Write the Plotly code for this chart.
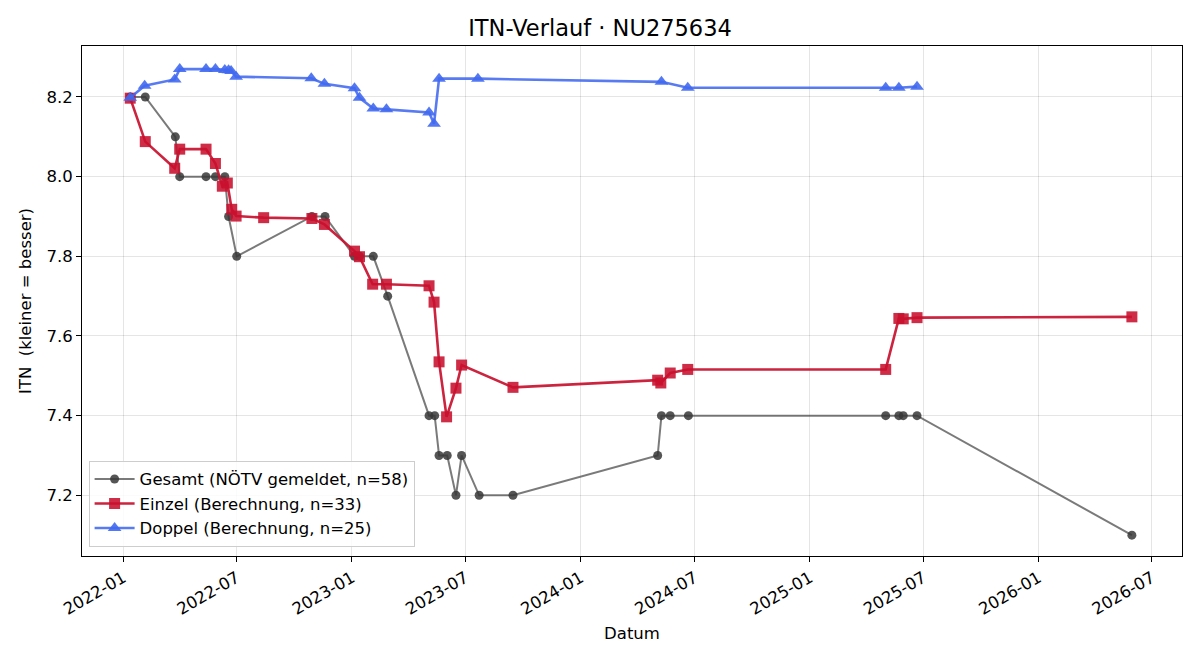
import plotly.graph_objects as go

gesamt_dates = ["2022-01-12", "2022-02-05", "2022-03-25", "2022-04-01", "2022-05-13", "2022-05-28",
                "2022-06-12", "2022-06-18", "2022-07-01", "2022-10-29", "2022-11-19", "2023-01-05",
                "2023-01-13", "2023-02-04", "2023-02-27", "2023-05-04", "2023-05-13", "2023-05-20",
                "2023-06-02", "2023-06-16", "2023-06-25", "2023-07-23", "2023-09-15", "2024-05-03",
                "2024-05-09", "2024-05-23", "2024-06-21", "2025-05-02", "2025-05-23", "2025-05-30",
                "2025-06-21", "2026-05-30"]
gesamt_vals = [8.2, 8.2, 8.1, 8.0, 8.0, 8.0,
               8.0, 7.9, 7.8, 7.9, 7.9, 7.8,
               7.8, 7.8, 7.7, 7.4, 7.4, 7.3,
               7.3, 7.2, 7.3, 7.2, 7.2, 7.3,
               7.4, 7.4, 7.4, 7.4, 7.4, 7.4,
               7.4, 7.1]

einzel_dates = ["2022-01-12", "2022-02-05", "2022-03-24", "2022-04-01", "2022-05-13", "2022-05-28",
                "2022-06-08", "2022-06-16", "2022-06-23", "2022-06-30", "2022-08-13", "2022-10-29",
                "2022-11-18", "2023-01-05", "2023-01-13", "2023-02-03", "2023-02-25", "2023-05-04",
                "2023-05-12", "2023-05-20", "2023-06-01", "2023-06-16", "2023-06-25", "2023-09-15",
                "2024-05-03", "2024-05-08", "2024-05-23", "2024-06-20", "2025-05-02", "2025-05-23",
                "2025-05-30", "2025-06-21", "2026-05-30"]
einzel_vals = [8.197, 8.088, 8.021, 8.069, 8.069, 8.033,
               7.976, 7.984, 7.918, 7.901, 7.897, 7.895,
               7.880, 7.813, 7.799, 7.730, 7.730, 7.726,
               7.685, 7.535, 7.397, 7.469, 7.527, 7.471,
               7.489, 7.482, 7.507, 7.516, 7.516, 7.644,
               7.643, 7.646, 7.648]

doppel_dates = ["2022-01-12", "2022-02-04", "2022-03-24", "2022-04-01", "2022-05-13", "2022-05-28",
                "2022-06-12", "2022-06-18", "2022-06-22", "2022-06-30", "2022-10-28", "2022-11-18",
                "2023-01-05", "2023-01-13", "2023-02-04", "2023-02-25", "2023-05-04", "2023-05-12",
                "2023-05-20", "2023-07-21", "2024-05-09", "2024-06-20", "2025-05-02", "2025-05-23",
                "2025-06-21"]
doppel_vals = [8.198, 8.228, 8.244, 8.270, 8.270, 8.270,
               8.268, 8.267, 8.265, 8.251, 8.247, 8.233,
               8.222, 8.198, 8.171, 8.169, 8.161, 8.133,
               8.246, 8.246, 8.238, 8.223, 8.223, 8.223,
               8.226]

FONT = "DejaVu Sans"
FS = 16.5

fig = go.Figure()
fig.add_trace(go.Scatter(
    x=gesamt_dates, y=gesamt_vals, mode="lines+markers",
    name="Gesamt (NÖTV gemeldet, n=58)",
    line=dict(color="rgba(70,70,70,0.72)", width=2),
    marker=dict(symbol="circle", size=9, color="rgba(55,55,55,0.85)",
                line=dict(width=0)),
))
fig.add_trace(go.Scatter(
    x=einzel_dates, y=einzel_vals, mode="lines+markers",
    name="Einzel (Berechnung, n=33)",
    line=dict(color="rgba(200,16,46,0.92)", width=2.6),
    marker=dict(symbol="square", size=11, color="rgba(200,16,46,0.88)",
                line=dict(width=0)),
))
fig.add_trace(go.Scatter(
    x=doppel_dates, y=doppel_vals, mode="lines+markers",
    name="Doppel (Berechnung, n=25)",
    line=dict(color="rgba(65,105,240,0.88)", width=2.6),
    marker=dict(symbol="triangle-up", size=12, color="rgba(65,105,240,0.9)",
                line=dict(width=0)),
))

fig.update_layout(
    width=1200, height=660,
    margin=dict(l=82, r=18, t=46, b=104),
    paper_bgcolor="white", plot_bgcolor="white",
    font=dict(family=FONT, size=FS, color="black"),
    title=dict(text="ITN-Verlauf · NU275634", x=0.5, xanchor="center",
               y=0.957, yanchor="middle", font=dict(size=22.5)),
    legend=dict(x=0.006, y=0.018, xanchor="left", yanchor="bottom",
                bgcolor="rgba(255,255,255,0.85)", bordercolor="rgba(205,205,205,1)",
                borderwidth=1, font=dict(size=FS), tracegroupgap=4,
                itemwidth=40),
    showlegend=True,
)
fig.update_xaxes(
    type="date", range=["2021-10-27", "2026-08-18"],
    tick0="2022-01-01", dtick="M6", tickformat="%Y-%m", tickangle=-30,
    ticks="outside", ticklen=5, tickcolor="black",
    showline=True, linecolor="black", linewidth=1, mirror=True,
    showgrid=True, gridcolor="rgba(0,0,0,0.1)", gridwidth=1,
    zeroline=False, tickfont=dict(size=FS),
    title=dict(text="Datum", font=dict(size=FS), standoff=9),
)
fig.update_yaxes(
    range=[7.0476, 8.328], tickvals=[7.2, 7.4, 7.6, 7.8, 8.0, 8.2],
    ticktext=["7.2", "7.4", "7.6", "7.8", "8.0", "8.2"],
    ticks="outside", ticklen=5, tickcolor="black",
    showline=True, linecolor="black", linewidth=1, mirror=True,
    showgrid=True, gridcolor="rgba(0,0,0,0.1)", gridwidth=1,
    zeroline=False, tickfont=dict(size=FS),
    title=dict(text="ITN  (kleiner = besser)", font=dict(size=FS), standoff=10),
)

fig.write_html("out.html")
